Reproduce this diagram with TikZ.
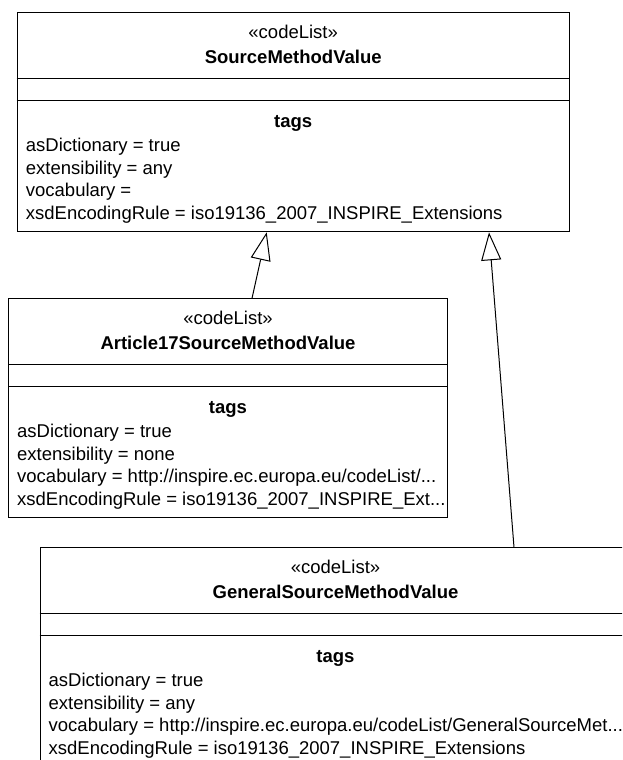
\documentclass[tikz,border=0pt]{standalone}
\usepackage{fontspec}
\setmainfont{Liberation Sans}
\usetikzlibrary{arrows.meta}

\begin{document}
\begin{tikzpicture}[x=1pt, y=-1pt, >={Triangle[open, length=28pt, width=20pt]}]

\tikzset{
    class box/.style={
        draw=black, line width=1pt, rectangle, fill=white,
        minimum height=219pt, anchor=north west, inner sep=0pt
    },
    compartment/.style={draw=black, line width=1pt},
    stereo/.style={font=\fontsize{18.5pt}{22pt}\selectfont, anchor=base, inner sep=0pt},
    classname/.style={font=\fontsize{18.5pt}{22pt}\selectfont\bfseries, anchor=base, inner sep=0pt},
    tagline/.style={font=\fontsize{18.5pt}{22pt}\selectfont, anchor=base west, inner sep=0pt},
    inherit/.style={draw=black, line width=1pt, ->}
}

% Page frame
\useasboundingbox (0,0) rectangle (622,760);
\clip (0,0) rectangle (622,760);

% --- SourceMethodValue ---
\node[class box, minimum width=552pt] (smv) at (16.7, 12.3) {};
\draw[compartment] ([yshift=-66pt]smv.north west) -- ([yshift=-66pt]smv.north east);
\draw[compartment] ([yshift=-88pt]smv.north west) -- ([yshift=-88pt]smv.north east);
\node[stereo] (smvStereo) at ([yshift=-26pt]smv.north) {«codeList»};
\node[classname] (smvName) at ([yshift=-51pt]smv.north) {SourceMethodValue};
\node[classname] (smvTags) at ([yshift=-115pt]smv.north) {tags};
\node[tagline] (smvT1) at ([xshift=9pt, yshift=-139pt]smv.north west) {asDictionary = true};
\node[tagline] (smvT2) at ([xshift=9pt, yshift=-161.8pt]smv.north west) {extensibility = any};
\node[tagline] (smvT3) at ([xshift=9pt, yshift=-184.6pt]smv.north west) {vocabulary =};
\node[tagline] (smvT4) at ([xshift=9pt, yshift=-207.4pt]smv.north west) {xsdEncodingRule = iso19136\_2007\_INSPIRE\_Extensions};

% --- Article17SourceMethodValue ---
\node[class box, minimum width=439pt] (art) at (8, 298.3) {};
\draw[compartment] ([yshift=-66pt]art.north west) -- ([yshift=-66pt]art.north east);
\draw[compartment] ([yshift=-88pt]art.north west) -- ([yshift=-88pt]art.north east);
\node[stereo] (artStereo) at ([yshift=-26pt]art.north) {«codeList»};
\node[classname] (artName) at ([yshift=-51pt]art.north) {Article17SourceMethodValue};
\node[classname] (artTags) at ([yshift=-115pt]art.north) {tags};
\node[tagline] (artT1) at ([xshift=9pt, yshift=-139pt]art.north west) {asDictionary = true};
\node[tagline] (artT2) at ([xshift=9pt, yshift=-161.8pt]art.north west) {extensibility = none};
\node[tagline] (artT3) at ([xshift=9pt, yshift=-184.6pt]art.north west) {vocabulary = http://inspire.ec.europa.eu/codeList/...};
\node[tagline] (artT4) at ([xshift=9pt, yshift=-207.4pt]art.north west) {xsdEncodingRule = iso19136\_2007\_INSPIRE\_Ext...};

% --- GeneralSourceMethodValue ---
\node[class box, minimum width=591pt] (gen) at (39.5, 547.3) {};
\draw[compartment] ([yshift=-66pt]gen.north west) -- ([yshift=-66pt]gen.north east);
\draw[compartment] ([yshift=-88pt]gen.north west) -- ([yshift=-88pt]gen.north east);
\node[stereo] (genStereo) at ([yshift=-26pt]gen.north) {«codeList»};
\node[classname] (genName) at ([yshift=-51pt]gen.north) {GeneralSourceMethodValue};
\node[classname] (genTags) at ([yshift=-115pt]gen.north) {tags};
\node[tagline] (genT1) at ([xshift=9pt, yshift=-139pt]gen.north west) {asDictionary = true};
\node[tagline] (genT2) at ([xshift=9pt, yshift=-161.8pt]gen.north west) {extensibility = any};
\node[tagline] (genT3) at ([xshift=9pt, yshift=-184.6pt]gen.north west) {vocabulary = http://inspire.ec.europa.eu/codeList/GeneralSourceMet...};
\node[tagline] (genT4) at ([xshift=9pt, yshift=-207.4pt]gen.north west) {xsdEncodingRule = iso19136\_2007\_INSPIRE\_Extensions};

% --- Generalisations ---
\coordinate (artUp) at ([xshift=244pt]art.north west);
\coordinate (genUp) at ([xshift=474.5pt]gen.north west);
\coordinate (smvIn1) at ([xshift=250pt]smv.south west);
\coordinate (smvIn2) at ([xshift=472.3pt]smv.south west);

\draw[inherit] (artUp) -- (smvIn1);
\draw[inherit] (genUp) -- (smvIn2);

\end{tikzpicture}
\end{document}
